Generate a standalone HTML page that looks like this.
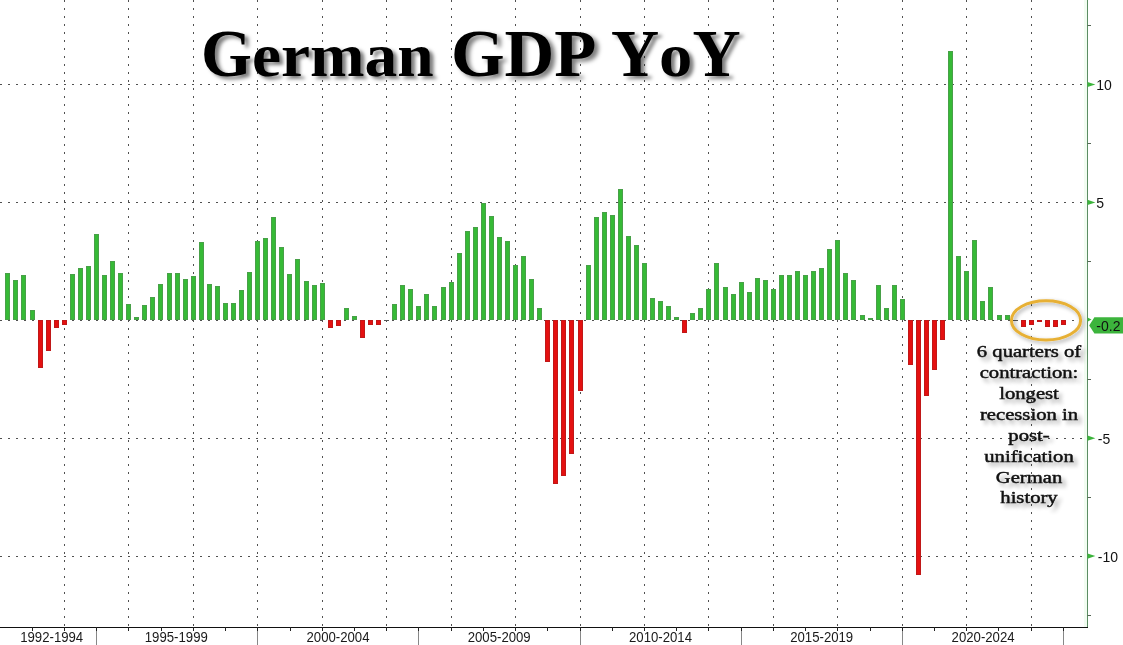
<!DOCTYPE html>
<html><head><meta charset="utf-8">
<style>
html,body{margin:0;padding:0;background:#fff;width:1123px;height:645px;overflow:hidden}
svg{position:absolute;left:0;top:0;will-change:transform}
.grid line{stroke:#505050;stroke-width:1;stroke-dasharray:2 6}
.grid line.h{stroke-dasharray:2 6}
.g{fill:#36ba36;stroke:#48a048;stroke-width:1}
.r{fill:#e41010;stroke:#c01818;stroke-width:1}
.st{stroke:#222;stroke-width:1}
.lt{stroke:#888;stroke-width:1}
.xl{font-family:"Liberation Sans",sans-serif;font-size:14px;fill:#1a1a1a}
.yl{font-family:"Liberation Sans",sans-serif;font-size:14px;fill:#111}
.tri{fill:#3cb43c}
.mt{stroke:#556655;stroke-width:1}
.tw{position:absolute;top:20px;font-family:"Liberation Serif",serif;font-weight:bold;font-size:67px;color:#000;line-height:1;
 white-space:nowrap;font-kerning:none;transform-origin:0 0;text-shadow:4px 3px 4px rgba(0,0,0,0.5)}
.lc{display:inline-block;transform:scaleY(0.91);transform-origin:50% 56px}
#note{position:absolute;left:973.6px;top:341.8px;width:110px;text-align:center;font-family:"Liberation Serif",serif;font-weight:normal;font-size:16px;line-height:20.95px;color:#111;
 transform:scaleX(1.29);transform-origin:55px 0;white-space:nowrap;font-kerning:none;-webkit-text-stroke:0.45px #111;
 text-shadow:3px 4px 4px rgba(0,0,0,0.45)}
</style></head><body>
<svg width="1123" height="645" viewBox="0 0 1123 645">
<defs>
<filter id="sh" x="-20%" y="-40%" width="140%" height="180%"><feGaussianBlur in="SourceAlpha" stdDeviation="2"/><feOffset dx="2" dy="2"/><feComponentTransfer><feFuncA type="linear" slope="0.35"/></feComponentTransfer><feMerge><feMergeNode/><feMergeNode in="SourceGraphic"/></feMerge></filter>
</defs>
<g class="grid">
<line x1="64.5" y1="0" x2="64.5" y2="626" />
<line x1="128.5" y1="0" x2="128.5" y2="626" />
<line x1="193.5" y1="0" x2="193.5" y2="626" />
<line x1="257.5" y1="0" x2="257.5" y2="626" />
<line x1="322.5" y1="0" x2="322.5" y2="626" />
<line x1="386.5" y1="0" x2="386.5" y2="626" />
<line x1="451.5" y1="0" x2="451.5" y2="626" />
<line x1="515.5" y1="0" x2="515.5" y2="626" />
<line x1="580.5" y1="0" x2="580.5" y2="626" />
<line x1="644.5" y1="0" x2="644.5" y2="626" />
<line x1="708.5" y1="0" x2="708.5" y2="626" />
<line x1="773.5" y1="0" x2="773.5" y2="626" />
<line x1="837.5" y1="0" x2="837.5" y2="626" />
<line x1="902.5" y1="0" x2="902.5" y2="626" />
<line x1="966.5" y1="0" x2="966.5" y2="626" />
<line x1="1031.5" y1="0" x2="1031.5" y2="626" />
<line class="h" x1="0" y1="84.5" x2="1087" y2="84.5" />
<line class="h" x1="0" y1="202.5" x2="1087" y2="202.5" />
<line class="h" x1="0" y1="320.5" x2="1087" y2="320.5" />
<line class="h" x1="0" y1="438.5" x2="1087" y2="438.5" />
<line class="h" x1="0" y1="556.5" x2="1087" y2="556.5" />
</g>
<g>
<rect class="g" x="5.5" y="273.5" width="4" height="46"/>
<rect class="g" x="13.5" y="280.5" width="4" height="39"/>
<rect class="g" x="21.5" y="275.5" width="4" height="44"/>
<rect class="g" x="30.5" y="310.5" width="4" height="9"/>
<rect class="r" x="38.5" y="320.5" width="4" height="47"/>
<rect class="r" x="46.5" y="320.5" width="4" height="30"/>
<rect class="r" x="54.5" y="320.5" width="4" height="7"/>
<rect class="r" x="62.5" y="320.5" width="4" height="4"/>
<rect class="g" x="70.5" y="274.5" width="4" height="45"/>
<rect class="g" x="78.5" y="268.5" width="4" height="51"/>
<rect class="g" x="86.5" y="266.5" width="4" height="53"/>
<rect class="g" x="94.5" y="234.5" width="4" height="85"/>
<rect class="g" x="102.5" y="275.5" width="4" height="44"/>
<rect class="g" x="110.5" y="261.5" width="4" height="58"/>
<rect class="g" x="118.5" y="273.5" width="4" height="46"/>
<rect class="g" x="126.5" y="304.5" width="4" height="15"/>
<rect class="g" x="134.5" y="317.5" width="4" height="2"/>
<rect class="g" x="142.5" y="305.5" width="4" height="14"/>
<rect class="g" x="150.5" y="297.5" width="4" height="22"/>
<rect class="g" x="158.5" y="284.5" width="4" height="35"/>
<rect class="g" x="167.5" y="273.5" width="4" height="46"/>
<rect class="g" x="175.5" y="273.5" width="4" height="46"/>
<rect class="g" x="183.5" y="279.5" width="4" height="40"/>
<rect class="g" x="191.5" y="276.5" width="4" height="43"/>
<rect class="g" x="199.5" y="242.5" width="4" height="77"/>
<rect class="g" x="207.5" y="284.5" width="4" height="35"/>
<rect class="g" x="215.5" y="286.5" width="4" height="33"/>
<rect class="g" x="223.5" y="303.5" width="4" height="16"/>
<rect class="g" x="231.5" y="303.5" width="4" height="16"/>
<rect class="g" x="239.5" y="290.5" width="4" height="29"/>
<rect class="g" x="247.5" y="272.5" width="4" height="47"/>
<rect class="g" x="255.5" y="241.5" width="4" height="78"/>
<rect class="g" x="263.5" y="238.5" width="4" height="81"/>
<rect class="g" x="271.5" y="217.5" width="4" height="102"/>
<rect class="g" x="279.5" y="247.5" width="4" height="72"/>
<rect class="g" x="287.5" y="274.5" width="4" height="45"/>
<rect class="g" x="295.5" y="259.5" width="4" height="60"/>
<rect class="g" x="304.5" y="281.5" width="4" height="38"/>
<rect class="g" x="312.5" y="285.5" width="4" height="34"/>
<rect class="g" x="320.5" y="283.5" width="4" height="36"/>
<rect class="r" x="328.5" y="320.5" width="4" height="7"/>
<rect class="r" x="336.5" y="320.5" width="4" height="5"/>
<rect class="g" x="344.5" y="308.5" width="4" height="11"/>
<rect class="g" x="352.5" y="316.5" width="4" height="3"/>
<rect class="r" x="360.5" y="320.5" width="4" height="17"/>
<rect class="r" x="368.5" y="320.5" width="4" height="4"/>
<rect class="r" x="376.5" y="320.5" width="4" height="4"/>
<rect x="384" y="320" width="5" height="1" fill="#555"/>
<rect class="g" x="392.5" y="304.5" width="4" height="15"/>
<rect class="g" x="400.5" y="285.5" width="4" height="34"/>
<rect class="g" x="408.5" y="289.5" width="4" height="30"/>
<rect class="g" x="416.5" y="306.5" width="4" height="13"/>
<rect class="g" x="424.5" y="294.5" width="4" height="25"/>
<rect class="g" x="432.5" y="306.5" width="4" height="13"/>
<rect class="g" x="441.5" y="287.5" width="4" height="32"/>
<rect class="g" x="449.5" y="282.5" width="4" height="37"/>
<rect class="g" x="457.5" y="253.5" width="4" height="66"/>
<rect class="g" x="465.5" y="231.5" width="4" height="88"/>
<rect class="g" x="473.5" y="227.5" width="4" height="92"/>
<rect class="g" x="481.5" y="203.5" width="4" height="116"/>
<rect class="g" x="489.5" y="216.5" width="4" height="103"/>
<rect class="g" x="497.5" y="237.5" width="4" height="82"/>
<rect class="g" x="505.5" y="241.5" width="4" height="78"/>
<rect class="g" x="513.5" y="265.5" width="4" height="54"/>
<rect class="g" x="521.5" y="256.5" width="4" height="63"/>
<rect class="g" x="529.5" y="279.5" width="4" height="40"/>
<rect class="g" x="537.5" y="308.5" width="4" height="11"/>
<rect class="r" x="545.5" y="320.5" width="4" height="41"/>
<rect class="r" x="553.5" y="320.5" width="4" height="163"/>
<rect class="r" x="561.5" y="320.5" width="4" height="155"/>
<rect class="r" x="569.5" y="320.5" width="4" height="133"/>
<rect class="r" x="578.5" y="320.5" width="4" height="70"/>
<rect class="g" x="586.5" y="265.5" width="4" height="54"/>
<rect class="g" x="594.5" y="217.5" width="4" height="102"/>
<rect class="g" x="602.5" y="212.5" width="4" height="107"/>
<rect class="g" x="610.5" y="215.5" width="4" height="104"/>
<rect class="g" x="618.5" y="189.5" width="4" height="130"/>
<rect class="g" x="626.5" y="236.5" width="4" height="83"/>
<rect class="g" x="634.5" y="245.5" width="4" height="74"/>
<rect class="g" x="642.5" y="263.5" width="4" height="56"/>
<rect class="g" x="650.5" y="298.5" width="4" height="21"/>
<rect class="g" x="658.5" y="301.5" width="4" height="18"/>
<rect class="g" x="666.5" y="306.5" width="4" height="13"/>
<rect class="g" x="674.5" y="317.5" width="4" height="2"/>
<rect class="r" x="682.5" y="320.5" width="4" height="12"/>
<rect class="g" x="690.5" y="313.5" width="4" height="6"/>
<rect class="g" x="698.5" y="308.5" width="4" height="11"/>
<rect class="g" x="706.5" y="289.5" width="4" height="30"/>
<rect class="g" x="714.5" y="263.5" width="4" height="56"/>
<rect class="g" x="723.5" y="287.5" width="4" height="32"/>
<rect class="g" x="731.5" y="294.5" width="4" height="25"/>
<rect class="g" x="739.5" y="282.5" width="4" height="37"/>
<rect class="g" x="747.5" y="292.5" width="4" height="27"/>
<rect class="g" x="755.5" y="278.5" width="4" height="41"/>
<rect class="g" x="763.5" y="280.5" width="4" height="39"/>
<rect class="g" x="771.5" y="289.5" width="4" height="30"/>
<rect class="g" x="779.5" y="275.5" width="4" height="44"/>
<rect class="g" x="787.5" y="275.5" width="4" height="44"/>
<rect class="g" x="795.5" y="271.5" width="4" height="48"/>
<rect class="g" x="803.5" y="275.5" width="4" height="44"/>
<rect class="g" x="811.5" y="271.5" width="4" height="48"/>
<rect class="g" x="819.5" y="268.5" width="4" height="51"/>
<rect class="g" x="827.5" y="249.5" width="4" height="70"/>
<rect class="g" x="835.5" y="240.5" width="4" height="79"/>
<rect class="g" x="843.5" y="273.5" width="4" height="46"/>
<rect class="g" x="851.5" y="280.5" width="4" height="39"/>
<rect class="g" x="860.5" y="315.5" width="4" height="4"/>
<rect class="g" x="868.5" y="318.5" width="4" height="1"/>
<rect class="g" x="876.5" y="285.5" width="4" height="34"/>
<rect class="g" x="884.5" y="308.5" width="4" height="11"/>
<rect class="g" x="892.5" y="285.5" width="4" height="34"/>
<rect class="g" x="900.5" y="299.5" width="4" height="20"/>
<rect class="r" x="908.5" y="320.5" width="4" height="44"/>
<rect class="r" x="916.5" y="320.5" width="4" height="254"/>
<rect class="r" x="924.5" y="320.5" width="4" height="75"/>
<rect class="r" x="932.5" y="320.5" width="4" height="49"/>
<rect class="r" x="940.5" y="320.5" width="4" height="19"/>
<rect class="g" x="948.5" y="51.5" width="4" height="268"/>
<rect class="g" x="956.5" y="256.5" width="4" height="63"/>
<rect class="g" x="964.5" y="271.5" width="4" height="48"/>
<rect class="g" x="972.5" y="240.5" width="4" height="79"/>
<rect class="g" x="980.5" y="301.5" width="4" height="18"/>
<rect class="g" x="988.5" y="287.5" width="4" height="32"/>
<rect class="g" x="997.5" y="315.5" width="4" height="4"/>
<rect class="g" x="1005.5" y="315.5" width="4" height="4"/>
<rect x="1013" y="320" width="5" height="1" fill="#555"/>
<rect class="r" x="1021.5" y="320.5" width="4" height="6"/>
<rect class="r" x="1029.5" y="320.5" width="4" height="4"/>
<rect class="r" x="1037.5" y="320.5" width="4" height="1"/>
<rect class="r" x="1045.5" y="320.5" width="4" height="6"/>
<rect class="r" x="1053.5" y="320.5" width="4" height="6"/>
<rect class="r" x="1061.5" y="320.5" width="4" height="4"/>
</g>
<line x1="0" y1="627.5" x2="1088" y2="627.5" stroke="#111" stroke-width="1.2"/>
<line class="st" x1="32.5" y1="627" x2="32.5" y2="631"/>
<line class="st" x1="64.5" y1="627" x2="64.5" y2="631"/>
<line class="lt" x1="96.5" y1="631" x2="96.5" y2="645"/>
<line class="st" x1="96.5" y1="627" x2="96.5" y2="631"/>
<line class="st" x1="128.5" y1="627" x2="128.5" y2="631"/>
<line class="st" x1="161.5" y1="627" x2="161.5" y2="631"/>
<line class="st" x1="193.5" y1="627" x2="193.5" y2="631"/>
<line class="st" x1="225.5" y1="627" x2="225.5" y2="631"/>
<line class="lt" x1="257.5" y1="631" x2="257.5" y2="645"/>
<line class="st" x1="257.5" y1="627" x2="257.5" y2="631"/>
<line class="st" x1="290.5" y1="627" x2="290.5" y2="631"/>
<line class="st" x1="322.5" y1="627" x2="322.5" y2="631"/>
<line class="st" x1="354.5" y1="627" x2="354.5" y2="631"/>
<line class="st" x1="386.5" y1="627" x2="386.5" y2="631"/>
<line class="lt" x1="418.5" y1="631" x2="418.5" y2="645"/>
<line class="st" x1="418.5" y1="627" x2="418.5" y2="631"/>
<line class="st" x1="451.5" y1="627" x2="451.5" y2="631"/>
<line class="st" x1="483.5" y1="627" x2="483.5" y2="631"/>
<line class="st" x1="515.5" y1="627" x2="515.5" y2="631"/>
<line class="st" x1="547.5" y1="627" x2="547.5" y2="631"/>
<line class="lt" x1="580.5" y1="631" x2="580.5" y2="645"/>
<line class="st" x1="580.5" y1="627" x2="580.5" y2="631"/>
<line class="st" x1="612.5" y1="627" x2="612.5" y2="631"/>
<line class="st" x1="644.5" y1="627" x2="644.5" y2="631"/>
<line class="st" x1="676.5" y1="627" x2="676.5" y2="631"/>
<line class="st" x1="708.5" y1="627" x2="708.5" y2="631"/>
<line class="lt" x1="741.5" y1="631" x2="741.5" y2="645"/>
<line class="st" x1="741.5" y1="627" x2="741.5" y2="631"/>
<line class="st" x1="773.5" y1="627" x2="773.5" y2="631"/>
<line class="st" x1="805.5" y1="627" x2="805.5" y2="631"/>
<line class="st" x1="837.5" y1="627" x2="837.5" y2="631"/>
<line class="st" x1="870.5" y1="627" x2="870.5" y2="631"/>
<line class="lt" x1="902.5" y1="631" x2="902.5" y2="645"/>
<line class="st" x1="902.5" y1="627" x2="902.5" y2="631"/>
<line class="st" x1="934.5" y1="627" x2="934.5" y2="631"/>
<line class="st" x1="966.5" y1="627" x2="966.5" y2="631"/>
<line class="st" x1="998.5" y1="627" x2="998.5" y2="631"/>
<line class="st" x1="1031.5" y1="627" x2="1031.5" y2="631"/>
<line class="lt" x1="1063.5" y1="631" x2="1063.5" y2="645"/>
<line class="st" x1="1063.5" y1="627" x2="1063.5" y2="631"/>
<text class="xl" x="20.2" y="641.9" textLength="63" lengthAdjust="spacingAndGlyphs">1992-1994</text>
<text class="xl" x="144.8" y="641.9" textLength="63" lengthAdjust="spacingAndGlyphs">1995-1999</text>
<text class="xl" x="306.5" y="641.9" textLength="63" lengthAdjust="spacingAndGlyphs">2000-2004</text>
<text class="xl" x="467.7" y="641.9" textLength="63" lengthAdjust="spacingAndGlyphs">2005-2009</text>
<text class="xl" x="629.0" y="641.9" textLength="63" lengthAdjust="spacingAndGlyphs">2010-2014</text>
<text class="xl" x="790.2" y="641.9" textLength="63" lengthAdjust="spacingAndGlyphs">2015-2019</text>
<text class="xl" x="951.6" y="641.9" textLength="63" lengthAdjust="spacingAndGlyphs">2020-2024</text>
<rect x="1084" y="0" width="3" height="627" fill="#f1fcf1"/>
<line x1="1087.5" y1="0" x2="1087.5" y2="627" stroke="#5b8c63" stroke-width="1"/>
<path class="tri" d="M1087.5 81.9 L1095.4 84.5 L1087.5 87.1 Z"/>
<text class="yl" x="1096.3" y="90.1">10</text>
<path class="tri" d="M1087.5 199.8 L1095.4 202.4 L1087.5 205.0 Z"/>
<text class="yl" x="1096.3" y="208.0">5</text>
<path class="tri" d="M1087.5 435.6 L1095.4 438.2 L1087.5 440.8 Z"/>
<text class="yl" x="1097.8" y="443.8">-5</text>
<path class="tri" d="M1087.5 553.5 L1095.4 556.1 L1087.5 558.7 Z"/>
<text class="yl" x="1097.8" y="561.7">-10</text>
<line class="mt" x1="1087.5" y1="25.5" x2="1091" y2="25.5"/>
<line class="mt" x1="1087.5" y1="143.5" x2="1091" y2="143.5"/>
<line class="mt" x1="1087.5" y1="261.5" x2="1091" y2="261.5"/>
<line class="mt" x1="1087.5" y1="379.5" x2="1091" y2="379.5"/>
<line class="mt" x1="1087.5" y1="497.5" x2="1091" y2="497.5"/>
<line class="mt" x1="1087.5" y1="615.5" x2="1091" y2="615.5"/>
<path class="tri" d="M1087.5 317.5 L1091.5 319.6 L1087.5 321.7 Z"/>
<path d="M1089.2 325.4 L1094.4 317.2 L1123 317.2 L1123 333.5 L1094.4 333.5 Z" fill="#3cb43c"/>
<text class="yl" x="1096.3" y="330.5">-0.2</text>
<ellipse cx="1046" cy="320.4" rx="34.6" ry="19.6" fill="none" stroke="#e7b034" stroke-width="3" filter="url(#sh)"/>
</svg>
<div class="tw" style="left:201.4px;transform:scaleX(0.977)">G<span class="lc">erman</span></div>
<div class="tw" style="left:451px;transform:scaleX(1.028)">GDP</div>
<div class="tw" style="left:610.7px;transform:scaleX(0.994)">Y<span class="lc">o</span>Y</div>
<div id="note">6 quarters of<br>contraction:<br>longest<br>recession in<br>post-<br>unification<br>German<br>history</div>
</body></html>
